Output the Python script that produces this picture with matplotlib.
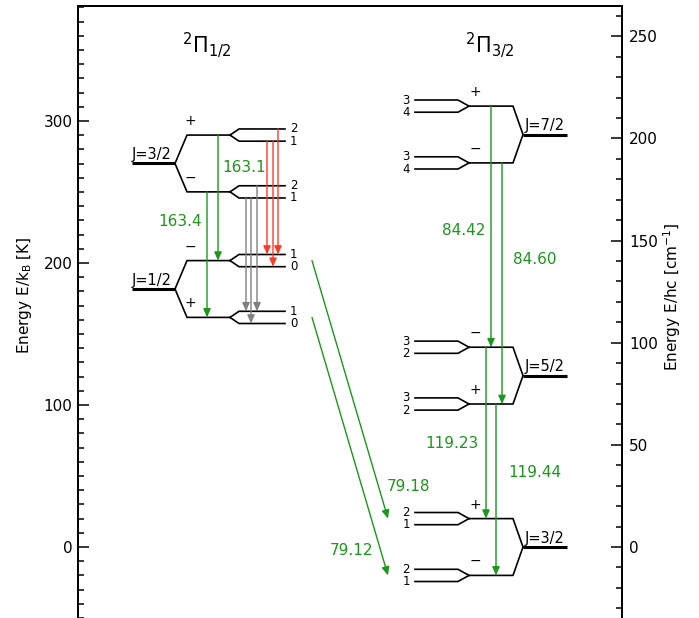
import matplotlib.pyplot as plt
from matplotlib.ticker import MultipleLocator

K_PER_CM = 1.4388  # 1 cm^-1 in K

# level energies E/k [K]
pi12_J = ['1/2', '3/2']
pi12_E = [181.7, 270.1]
pi32_J = ['3/2', '5/2', '7/2']
pi32_E = [0.0, 120.7, 290.5]

# parity of the upper Lambda-doubling component
pi12_upper = ['-', '+']
pi32_upper = ['+', '-', '+']

# hyperfine F of the (upper, lower) line in each component
pi12_F = [['1', '0'], ['2', '1']]
pi32_F = [['2', '1'], ['3', '2'], ['3', '4']]

# rotational lines [micron]: upper level -> lower level
lines_um = ['163.1', '163.4', '84.42', '84.60', '119.23', '119.44', '79.18', '79.12']
lines_up = [('a', '3/2', '+'), ('a', '3/2', '-'), ('b', '7/2', '+'), ('b', '7/2', '-'),
            ('b', '5/2', '-'), ('b', '5/2', '+'), ('a', '1/2', '-'), ('a', '1/2', '+')]
lines_lo = [('a', '1/2', '-'), ('a', '1/2', '+'), ('b', '5/2', '-'), ('b', '5/2', '+'),
            ('b', '3/2', '+'), ('b', '3/2', '-'), ('b', '3/2', '+'), ('b', '3/2', '-')]

# hyperfine components of the 163 um lines, F upper -> F lower
hfs_up = ['1', '1', '2']
hfs_lo = ['1', '0', '1']

# drawing layout (x in pixels of the figure, offsets in K)
D_LAM = 20.0
D_HF = 4.3
GREEN = '#1c961c'
RED = '#ff3a28'
GRAY = '#808080'
geom = {'a': [132, 175, 187, 230, 239, 285], 'b': [567, 523, 513, 469, 458, 415]}
line_x0 = [218, 207, 491, 502, 486, 496, 312, 312]
line_x1 = [218, 207, 491, 502, 486, 496, 388, 388]
lab_x = [222, 202, 485, 513, 479, 508, 387, 373]
lab_y = [267.6, 228.9, 223.2, 202.8, 73.2, 52.8, 42.3, -2.8]
lab_ha = ['left', 'right', 'right', 'left', 'right', 'left', 'left', 'right']
red_x = [267, 273, 278]
gray_x = [246, 251, 257]

fig = plt.figure(figsize=(6.99, 6.18), dpi=100)
ax = fig.add_axes([78 / 699, 0, 544 / 699, 612 / 618])
ax.set_xlim(78, 622)
ax.set_ylim(-50, 381)
ax.set_xticks([])
ax.spines['bottom'].set_visible(False)
for s in ax.spines.values():
    s.set_linewidth(1.3)

ax.yaxis.set_major_locator(MultipleLocator(100))
ax.yaxis.set_minor_locator(MultipleLocator(10))
ax.tick_params(axis='y', which='both', direction='in', labelsize=11, pad=4)
ax.tick_params(axis='y', which='major', length=8, width=1.1)
ax.tick_params(axis='y', which='minor', length=4, width=1.1)

ax2 = ax.twinx()
ax2.set_ylim(-50 / K_PER_CM, 381 / K_PER_CM)
ax2.spines['bottom'].set_visible(False)
for s in ax2.spines.values():
    s.set_linewidth(1.3)
ax2.yaxis.set_major_locator(MultipleLocator(50))
ax2.yaxis.set_minor_locator(MultipleLocator(10))
ax2.tick_params(axis='y', which='both', direction='in', labelsize=11, pad=5)
ax2.tick_params(axis='y', which='major', length=8, width=1.1)
ax2.tick_params(axis='y', which='minor', length=4, width=1.1)

fig.text(25 / 699, 1 - 295 / 618, r'Energy E/k$_\mathregular{B}$ [K]', rotation=90,
         ha='center', va='center', fontsize=11)
fig.text(672 / 699, 1 - 297 / 618, r'Energy E/hc [cm$^{-1}$]', rotation=90,
         ha='center', va='center', fontsize=11)

ax.text(207, 353, r'$^2\Pi_{1/2}$', fontsize=15, ha='center', va='center')
ax.text(490, 353, r'$^2\Pi_{3/2}$', fontsize=15, ha='center', va='center')

# build the levels
levels = {}
hfs = {}
for lad, Js, Es, ups, Fs in [('a', pi12_J, pi12_E, pi12_upper, pi12_F),
                             ('b', pi32_J, pi32_E, pi32_upper, pi32_F)]:
    xj0, xj1, xp0, xp1, xh0, xh1 = geom[lad]
    side = 1 if lad == 'a' else -1
    for J, E, up, Fpair in zip(Js, Es, ups, Fs):
        ax.plot([xj0, xj1], [E, E], color='k', lw=2.2, solid_capstyle='butt')
        jx = xj0 if lad == 'a' else xj1 + 2
        ax.text(jx, E + 3, 'J=' + J, fontsize=10.5, ha='left', va='baseline')
        for p in '+-':
            y = E + D_LAM if p == up else E - D_LAM
            levels[(lad, J, p)] = y
            ax.plot([xj1, xp0, xp1], [E, y, y], color='k', lw=1.2)
            ax.text(xp0 + 3 if lad == 'a' else xp1 + 6, y + 5,
                    '+' if p == '+' else '\u2212', fontsize=10, ha='center', va='bottom')
            for F, dy in zip(Fpair, [D_HF, -D_HF]):
                hfs[(lad, J, p, F)] = y + dy
                ax.plot([xp1, xh0, xh1], [y, y + dy, y + dy], color='k', lw=1.2)
                ax.text(xh1 + 5 * side, y + dy, F, fontsize=8.5,
                        ha='left' if lad == 'a' else 'right', va='center')


def arrow(x0, y0, x1, y1, color):
    ax.annotate('', xy=(x1, y1), xytext=(x0, y0),
                arrowprops=dict(arrowstyle='-|>,head_length=0.5,head_width=0.22',
                                color=color, lw=1.0, shrinkA=0, shrinkB=0,
                                mutation_scale=10))


for lab, up, lo, x0, x1, lx, ly, ha in zip(lines_um, lines_up, lines_lo, line_x0, line_x1,
                                          lab_x, lab_y, lab_ha):
    arrow(x0, levels[up], x1, levels[lo], GREEN)
    ax.text(lx, ly, lab, color=GREEN, fontsize=11, ha=ha, va='center')

for Fu, Fl, x in zip(hfs_up, hfs_lo, red_x):
    arrow(x, hfs[('a', '3/2', '+', Fu)], x, hfs[('a', '1/2', '-', Fl)], RED)
for Fu, Fl, x in zip(hfs_up, hfs_lo, gray_x):
    arrow(x, hfs[('a', '3/2', '-', Fu)], x, hfs[('a', '1/2', '+', Fl)], GRAY)

fig.savefig('out.png', dpi=100)
